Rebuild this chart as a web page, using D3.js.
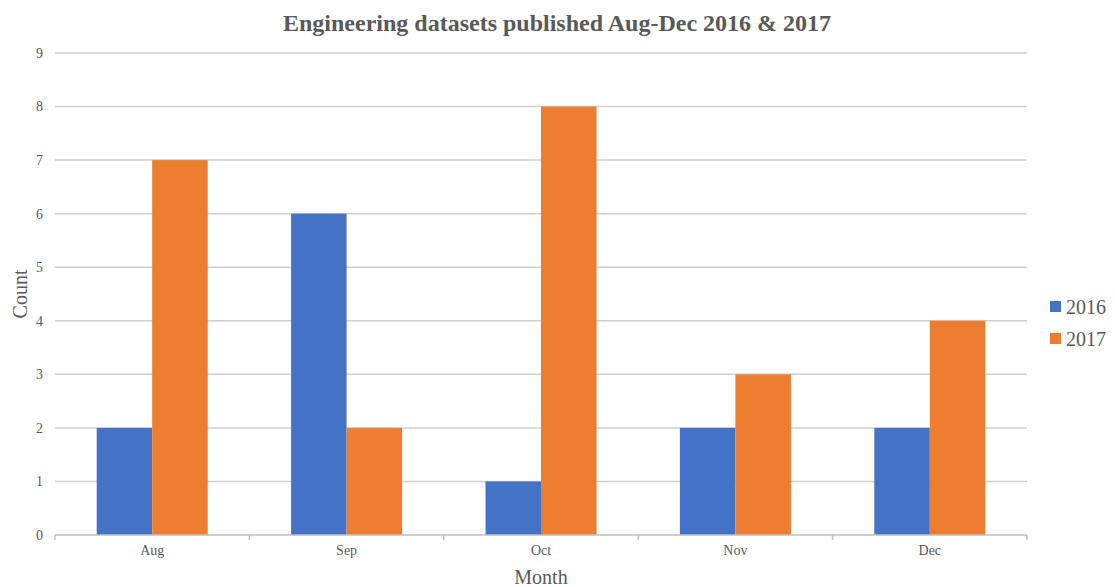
<!DOCTYPE html>
<html>
<head>
<meta charset="utf-8">
<script src="https://cdn.jsdelivr.net/npm/d3@7"></script>
<style>
  body { margin: 0; background: #fff; }
  svg { font-family: "Liberation Serif", "Times New Roman", serif; }
</style>
</head>
<body>
<svg width="1115" height="587"></svg>
<script>
// data
var months = ["Aug", "Sep", "Oct", "Nov", "Dec"];
var years = ["2016", "2017"];
var count2016 = [2, 6, 1, 2, 2];
var count2017 = [7, 2, 8, 3, 4];
var yTicks = [0, 1, 2, 3, 4, 5, 6, 7, 8, 9];
var colors = ["#4472C4", "#ED7D31"];

var svg = d3.select("svg");
// plot area (note: "top" is reserved on window, so use plot*)
var plotL = 55, plotR = 1027, plotT = 53, plotB = 535;

var x = d3.scaleBand().domain(months).range([plotL, plotR]).paddingInner(0).paddingOuter(0);
var inner = d3.scaleBand().domain(years).range([0, x.bandwidth() * 0.571]);
var groupOff = (x.bandwidth() - inner.range()[1]) / 2;
var y = d3.scaleLinear().domain([0, 9]).range([plotB, plotT]);

// gridlines
svg.append("g").selectAll("line")
  .data(yTicks.filter(function(d){ return d > 0; }))
  .enter().append("line")
  .attr("x1", plotL).attr("x2", plotR)
  .attr("y1", function(d){ return y(d); }).attr("y2", function(d){ return y(d); })
  .attr("stroke", "#cfcfcf").attr("stroke-width", 1.5);

// y tick labels
svg.append("g").selectAll("text")
  .data(yTicks)
  .enter().append("text")
  .attr("x", 43).attr("y", function(d){ return y(d); })
  .attr("dy", "0.35em")
  .attr("text-anchor", "end")
  .attr("font-size", 14).attr("fill", "#595959")
  .text(function(d){ return d; });

// bars
var rows = months.map(function(m, i){ return {month: m, vals: [count2016[i], count2017[i]]}; });
var grp = svg.append("g").selectAll("g")
  .data(rows).enter().append("g")
  .attr("transform", function(d){ return "translate(" + (x(d.month) + groupOff) + ",0)"; });
grp.selectAll("rect")
  .data(function(d){ return d.vals.map(function(v, j){ return {year: years[j], v: v, j: j}; }); })
  .enter().append("rect")
  .attr("x", function(d){ return inner(d.year); })
  .attr("width", inner.bandwidth())
  .attr("y", function(d){ return y(d.v); })
  .attr("height", function(d){ return plotB - y(d.v); })
  .attr("fill", function(d){ return colors[d.j]; });

// x axis
var xAxis = d3.axisBottom(x).tickSize(0).tickPadding(10);
var gx = svg.append("g").attr("transform", "translate(0," + plotB + ")").call(xAxis);
gx.select(".domain").remove();
gx.selectAll("text").attr("font-family", "Liberation Serif").attr("font-size", 14).attr("fill", "#595959");
svg.append("line").attr("x1", plotL).attr("x2", plotR).attr("y1", plotB).attr("y2", plotB)
  .attr("stroke", "#bfbfbf").attr("stroke-width", 1.5);
var bounds = months.map(function(m){ return x(m); }).concat([plotR]);
svg.append("g").selectAll("line").data(bounds).enter().append("line")
  .attr("x1", function(d){ return d; }).attr("x2", function(d){ return d; })
  .attr("y1", plotB).attr("y2", plotB + 5)
  .attr("stroke", "#bfbfbf").attr("stroke-width", 1.5);

// title
svg.append("text").attr("x", 557).attr("y", 31)
  .attr("text-anchor", "middle").attr("font-size", 24).attr("font-weight", "bold")
  .attr("fill", "#595959")
  .text("Engineering datasets published Aug-Dec 2016 & 2017");

// axis titles
svg.append("text").attr("x", 541).attr("y", 584)
  .attr("text-anchor", "middle").attr("font-size", 20).attr("fill", "#595959")
  .text("Month");
svg.append("text").attr("transform", "translate(27,294) rotate(-90)")
  .attr("text-anchor", "middle").attr("font-size", 20).attr("fill", "#595959")
  .text("Count");

// legend
var leg = svg.append("g").selectAll("g").data(years).enter().append("g")
  .attr("transform", function(d, i){ return "translate(1050," + (301 + i * 32) + ")"; });
leg.append("rect").attr("width", 11).attr("height", 11)
  .attr("fill", function(d, i){ return colors[i]; });
leg.append("text").attr("x", 16).attr("y", 12.5)
  .attr("font-size", 20).attr("fill", "#595959")
  .text(function(d){ return d; });
</script>
</body>
</html>
